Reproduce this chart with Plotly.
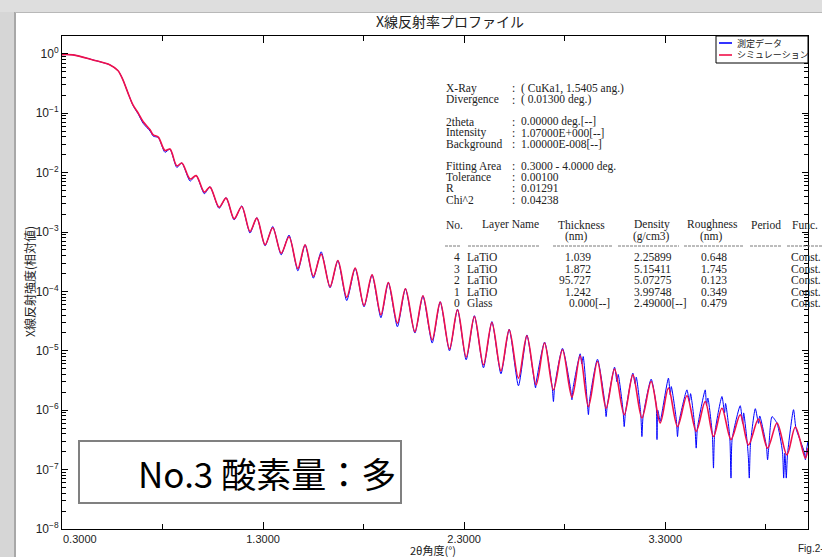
import plotly.graph_objects as go

# ---------------- data ----------------
two_theta_sim = [0.300, 0.355, 0.454, 0.539, 0.579, 0.603, 0.628, 0.653, 0.678, 0.703,
                 0.738, 0.754, 0.779, 0.812, 0.837, 0.871, 0.896, 0.937, 0.967, 1.008,
                 1.036, 1.081, 1.116, 1.156, 1.194, 1.235, 1.269, 1.310, 1.348, 1.390,
                 1.429, 1.473, 1.509, 1.550, 1.589, 1.633, 1.672, 1.716, 1.758, 1.802,
                 1.842, 1.886, 1.923, 1.968, 2.008, 2.055, 2.095, 2.141, 2.181, 2.227,
                 2.267, 2.310, 2.351, 2.396, 2.438, 2.483, 2.524, 2.570, 2.612, 2.658,
                 2.700, 2.744, 2.789, 2.836, 2.877, 2.918, 2.963, 3.006, 3.048, 3.096,
                 3.139, 3.184, 3.230, 3.275, 3.316, 3.361, 3.408, 3.454, 3.499, 3.540,
                 3.582, 3.627, 3.673, 3.714, 3.764, 3.809, 3.856, 3.905, 3.947, 3.997,
                 4.010]
intensity_sim = [0.97, 0.96, 0.79, 0.65, 0.52, 0.365, 0.22, 0.138, 0.102, 0.0725,
                 0.0526, 0.0433, 0.0396, 0.0236, 0.0249, 0.0130, 0.0145, 7.8e-3, 8.9e-3, 4.7e-3,
                 5.7e-3, 2.62e-3, 3.72e-3, 1.67e-3, 2.69e-3, 1.02e-3, 1.71e-3, 6.1e-4, 1.18e-3, 4.4e-4,
                 8.3e-4, 2.43e-4, 6.1e-4, 1.8e-4, 4.25e-4, 1.2e-4, 3.31e-4, 8.0e-5, 2.47e-4, 5.8e-5,
                 1.9e-4, 4.04e-5, 1.41e-4, 2.92e-5, 1.11e-4, 2.1e-5, 8.43e-5, 1.53e-5, 6.61e-5, 1.08e-5,
                 4.9e-5, 7.8e-6, 3.78e-5, 5.8e-6, 2.99e-5, 4.6e-6, 2.26e-5, 3.47e-6, 1.79e-5, 2.68e-6,
                 1.35e-5, 2.2e-6, 1.04e-5, 1.66e-6, 8.24e-6, 1.15e-6, 6.61e-6, 1.08e-6, 4.92e-6, 8.4e-7,
                 3.94e-6, 7.4e-7, 3.04e-6, 6.1e-7, 2.35e-6, 5.3e-7, 1.75e-6, 4.4e-7, 1.4e-6, 3.6e-7,
                 1.08e-6, 3.2e-7, 8.4e-7, 2.6e-7, 7.1e-7, 2.3e-7, 6.1e-7, 1.77e-7, 5.2e-7, 1.56e-7,
                 2.3e-7]

two_theta_meas = [0.300, 0.355, 0.454, 0.539, 0.579, 0.603, 0.628, 0.653, 0.678, 0.703,
                  0.738, 0.754, 0.779, 0.812, 0.837, 0.871, 0.896, 0.937, 0.967, 1.008,
                  1.036, 1.081, 1.116, 1.156, 1.194, 1.235, 1.269, 1.310, 1.348, 1.390,
                  1.429, 1.473, 1.509, 1.550, 1.589, 1.633, 1.672, 1.716, 1.758, 1.802,
                  1.842, 1.886, 1.923, 1.968, 2.008, 2.055, 2.095, 2.141, 2.181, 2.227,
                  2.267, 2.310, 2.351, 2.396, 2.438, 2.483, 2.524, 2.570, 2.612,
                  2.640, 2.655, 2.660, 2.700, 2.738, 2.744, 2.750, 2.789,
                  2.830, 2.836, 2.842, 2.877, 2.885, 2.892, 2.912, 2.918, 2.924, 2.963,
                  3.000, 3.006, 3.012, 3.048, 3.060, 3.066, 3.090, 3.096, 3.102,
                  3.139, 3.150, 3.156, 3.178, 3.184, 3.190, 3.230, 3.255, 3.259, 3.263,
                  3.275, 3.281, 3.316, 3.325, 3.330, 3.355, 3.361, 3.367,
                  3.408, 3.420, 3.426, 3.448, 3.454, 3.460, 3.499, 3.505, 3.512,
                  3.534, 3.540, 3.546, 3.582, 3.595, 3.600, 3.621, 3.627, 3.633,
                  3.673, 3.685, 3.690, 3.708, 3.714, 3.718, 3.724, 3.748, 3.764, 3.770,
                  3.803, 3.809, 3.815, 3.831, 3.856, 3.883, 3.889, 3.895, 3.902, 3.908,
                  3.938, 3.950, 3.991, 3.997, 4.003, 4.010]
intensity_meas = [0.97, 0.96, 0.79, 0.65, 0.52, 0.365, 0.22, 0.135, 0.098, 0.068,
                  0.050, 0.041, 0.039, 0.022, 0.0249, 0.0122, 0.0146, 7.2e-3, 9.0e-3, 4.4e-3,
                  5.8e-3, 2.5e-3, 3.8e-3, 1.6e-3, 2.75e-3, 9.6e-4, 1.75e-3, 5.86e-4, 1.24e-3, 4.13e-4,
                  8.9e-4, 2.22e-4, 6.1e-4, 1.67e-4, 4.64e-4, 1.15e-4, 3.31e-4, 7.0e-5, 2.47e-4, 5.5e-5,
                  1.9e-4, 3.6e-5, 1.41e-4, 2.54e-5, 1.11e-4, 1.99e-5, 8.4e-5, 1.35e-5, 6.7e-5, 1.0e-5,
                  5.0e-5, 7.05e-6, 3.9e-5, 5.18e-6, 3.1e-5, 4.1e-6, 2.3e-5, 2.58e-6, 1.85e-5,
                  5.0e-6, 2.38e-6, 3.2e-6, 1.4e-5, 2.4e-6, 1.4e-6, 2.5e-6, 1.1e-5,
                  2.2e-6, 1.5e-6, 2.4e-6, 8.9e-6, 6.0e-6, 8.0e-6, 1.4e-6, 8.4e-7, 1.5e-6, 7.2e-6,
                  1.3e-6, 7.8e-7, 1.2e-6, 5.3e-6, 3.0e-6, 4.0e-6, 1.0e-6, 5.3e-7, 9.0e-7,
                  4.21e-6, 2.8e-6, 3.6e-6, 9.0e-7, 3.6e-7, 8.0e-7, 3.33e-6, 1.2e-6, 3.2e-7, 1.0e-6,
                  6.5e-7, 8.0e-7, 3.47e-6, 1.8e-6, 2.5e-6, 7.0e-7, 3.6e-7, 6.0e-7,
                  2.2e-6, 1.4e-6, 1.9e-6, 5.0e-7, 2.3e-7, 5.0e-7, 2.2e-6, 1.2e-6, 1.6e-6,
                  4.0e-7, 1.06e-7, 4.0e-7, 1.7e-6, 9.0e-7, 1.3e-6, 3.5e-7, 7.2e-8, 3.3e-7,
                  1.19e-6, 6.0e-7, 9.0e-7, 2.8e-7, 1.5e-7, 7.2e-8, 2.7e-7, 1.06e-6, 6.0e-7, 8.0e-7,
                  2.5e-7, 1.46e-7, 2.4e-7, 7.8e-7, 6.0e-7, 2.0e-7, 7.2e-8, 1.9e-7, 7.2e-8, 1.8e-7,
                  1.02e-6, 5.0e-7, 2.0e-7, 1.46e-7, 2.2e-7, 3.0e-7]

x_tick_vals = [1.3, 2.3, 3.3]
x_tick_text = ["1.3000", "2.3000", "3.3000"]
x_first_label = "0.3000"
y_exponents = [0, -1, -2, -3, -4, -5, -6, -7, -8]

series_names = ["測定データ", "シミュレーション"]

info_labels = ["X-Ray", "Divergence", "", "2theta", "Intensity", "Background", "",
               "Fitting Area", "Tolerance", "R", "Chi^2"]
info_values = ["( CuKa1, 1.5405 ang.)", "( 0.01300 deg.)", "", "0.00000 deg.[--]",
               "1.07000E+000[--]", "1.00000E-008[--]", "", "0.3000 - 4.0000 deg.",
               "0.00100", "0.01291", "0.04238"]

layer_no = ["4", "3", "2", "1", "0"]
layer_name = ["LaTiO", "LaTiO", "LaTiO", "LaTiO", "Glass"]
thickness = ["1.039", "1.872", "95.727", "1.242", "0.000[--]"]
density = ["2.25899", "5.15411", "5.07275", "3.99748", "2.49000[--]"]
roughness = ["0.648", "1.745", "0.123", "0.349", "0.479"]
func = ["Const.", "Const.", "Const.", "Const.", "Const."]

# ---------------- layout helpers (pixel -> paper) ----------------
W, H = 822, 557
L, R, T, B = 62, 808, 36, 529


def px(x):
    return (x - L) / (R - L)


def py(y):
    return (B - y) / (B - T)


BLUE = "#0000ff"
RED = "#f0104a"
TXT = "#222222"
SERIF = "Liberation Serif"
CJK = "Noto Sans CJK JP"
FS = 11.5

fig = go.Figure()
fig.add_trace(go.Scatter(x=two_theta_meas, y=intensity_meas, mode="lines",
                         name=series_names[0], line=dict(color=BLUE, width=1, shape="spline", smoothing=0.6)))
fig.add_trace(go.Scatter(x=two_theta_sim, y=intensity_sim, mode="lines",
                         name=series_names[1], line=dict(color=RED, width=1.6, shape="spline", smoothing=0.9)))

shapes = []
ann = []


def text(x, y, s, size=FS, family=SERIF, anchor="left", **kw):
    ann.append(dict(x=px(x), y=py(y), xref="paper", yref="paper", text=s, showarrow=False,
                    xanchor=anchor, yanchor="middle", borderpad=0,
                    font=dict(family=family, size=size, color=kw.pop("color", TXT)), **kw))


# page frame (gray strips)
shapes.append(dict(type="rect", xref="paper", yref="paper", x0=px(0), x1=px(14), y0=py(H), y1=py(0),
                   fillcolor="#d6d6d6", line=dict(width=0), layer="below"))
shapes.append(dict(type="rect", xref="paper", yref="paper", x0=px(0), x1=px(W), y0=py(12), y1=py(0),
                   fillcolor="#dedede", line=dict(width=0), layer="below"))
shapes.append(dict(type="line", xref="paper", yref="paper", x0=px(15), x1=px(15), y0=py(H), y1=py(12),
                   line=dict(color="#a8a8a8", width=2), layer="below"))
shapes.append(dict(type="line", xref="paper", yref="paper", x0=px(15), x1=px(W), y0=py(12.5), y1=py(12.5),
                   line=dict(color="#b8b8b8", width=1), layer="below"))

# legend
shapes.append(dict(type="rect", xref="paper", yref="paper", x0=px(716), x1=px(808), y0=py(63), y1=py(36),
                   fillcolor="white", line=dict(color="black", width=1), layer="above"))
for i, (c, yy) in enumerate([(BLUE, 43), (RED, 55)]):
    shapes.append(dict(type="line", xref="paper", yref="paper", x0=px(719), x1=px(732), y0=py(yy), y1=py(yy),
                       line=dict(color=c, width=1.6), layer="above"))
    text(736, yy, series_names[i], size=9, family=CJK)

# sample label box
shapes.append(dict(type="rect", xref="paper", yref="paper", x0=px(79), x1=px(401), y0=py(503), y1=py(441),
                   fillcolor="white", line=dict(color="#808080", width=2), layer="above"))
text(267, 472, "No.3 酸素量：多", size=35, family=CJK, anchor="center", color="black")

# title and axis titles
text(450, 21, "X線反射率プロファイル", size=14, family=CJK, anchor="center")
text(29, 282, "X線反射強度(相対値)", size=12, family=CJK, anchor="center", textangle=-90)
text(433, 550, "2θ角度(°)", size=11, family=CJK, anchor="center")
text(797, 548, "Fig.2-3", size=10, family="Liberation Sans")
text(62, 539, x_first_label, size=11, family="Liberation Sans")

# info block
y0 = 88.5
dy = 11.1
for i, (lab, val) in enumerate(zip(info_labels, info_values)):
    if not lab:
        continue
    yy = y0 + i * dy
    text(445, yy, lab)
    text(511, yy, ":")
    text(520, yy, val)

# table header
hdr_y = 224.5
for s, xx in [("No.", 445), ("Layer Name", 481), ("Thickness", 557), ("Density", 633),
              ("Roughness", 686), ("Period", 750), ("Func.", 791)]:
    text(xx, hdr_y, s)
for s, xx in [("(nm)", 576), ("(g/cm3)", 651), ("(nm)", 711)]:
    text(xx, hdr_y + 11.5, s, anchor="center")
for xa, xb in [(445, 461), (468, 540), (553, 613), (618, 679), (684, 744), (750, 781), (787, 822)]:
    shapes.append(dict(type="line", xref="paper", yref="paper", x0=px(xa), x1=px(xb),
                       y0=py(hdr_y + 21.5), y1=py(hdr_y + 21.5),
                       line=dict(color="#7a7a7a", width=1, dash="3px,1px")))

row_y0 = 257
row_dy = 11.5
for i in range(len(layer_no)):
    yy = row_y0 + i * row_dy
    text(461, yy, layer_no[i], anchor="right")
    text(466, yy, layer_name[i])
    text(633, yy, density[i])
    text(700, yy, roughness[i])
    text(790, yy, func[i])
    tx = thickness[i]
    if tx.endswith("[--]"):
        text(568, yy, tx)
    else:
        text(592, yy, tx, anchor="right")

y_minor = [m * 10.0 ** e for e in range(-8, 1) for m in range(2, 10)]

fig.update_layout(
    width=W, height=H,
    margin=dict(l=L, r=W - R, t=T, b=H - B),
    paper_bgcolor="white", plot_bgcolor="white",
    showlegend=False,
    shapes=shapes, annotations=ann,
    xaxis=dict(range=[0.3, 4.01], showgrid=False, zeroline=False,
               showline=True, linecolor="black", linewidth=1, mirror="allticks",
               ticks="inside", ticklen=7, tickcolor="black",
               tickmode="array", tickvals=x_tick_vals, ticktext=x_tick_text,
               tickfont=dict(family="Liberation Sans", size=11, color=TXT),
               minor=dict(tickmode="array", tickvals=[0.8, 1.8, 2.8, 3.8], ticks="inside",
                          ticklen=5, tickcolor="black")),
    yaxis=dict(type="log", range=[-8, 0.3], showgrid=False, zeroline=False,
               showline=True, linecolor="black", linewidth=1, mirror="allticks",
               ticks="inside", ticklen=6, tickcolor="black",
               tickmode="array", tickvals=[10.0 ** e for e in y_exponents],
               ticktext=["10<sup>%s</sup>" % (str(e).replace("-", "−")) for e in y_exponents],
               tickfont=dict(family="Liberation Sans", size=12, color=TXT),
               minor=dict(tickmode="array", tickvals=y_minor, ticks="inside", ticklen=4, tickcolor="black")),
)

fig.write_html("out.html", config={"displayModeBar": False},
               post_script="document.body.style.margin='0';document.body.style.overflow='hidden';")
